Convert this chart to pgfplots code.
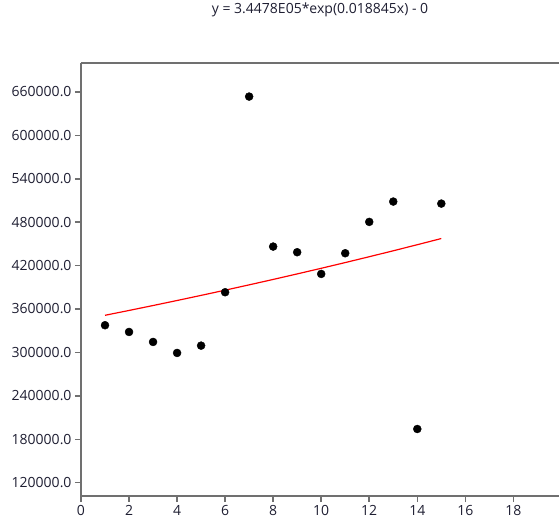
\documentclass[border=0pt]{standalone}
\usepackage{fontspec}
\setmainfont{Open Sans}
\usepackage{pgfplots}
\pgfplotsset{compat=1.18}
\definecolor{axgray}{RGB}{112,112,112}
\definecolor{lbl}{RGB}{30,30,50}
\begin{document}
\begin{tikzpicture}
\useasboundingbox (-81pt,-27pt) rectangle (478pt,496pt);
\begin{axis}[
  scale only axis,
  width=478pt, height=433pt,
  xmin=0, xmax=19.9,
  ymin=101600, ymax=700000,
  axis lines=left,
  axis line style={-, draw=axgray, line width=2pt},
  xtick={0,2,...,18},
  ytick={120000,180000,...,660000},
  tick align=outside,
  major tick length=6pt,
  tick style={draw=axgray, line width=1.5pt},
  scaled y ticks=false,
  /pgf/number format/assume math mode=true,
  y tick label style={/pgf/number format/.cd, fixed, fixed zerofill, precision=1, 1000 sep={}},
  ticklabel style={font=\fontsize{14}{16}\selectfont, text=lbl},
  title={y = 3.4478E05*exp(0.018845x) - 0},
  title style={at={(0.5,1)}, anchor=center, yshift=47pt, font=\fontsize{14}{16}\selectfont, text=lbl},
  clip=false,
]
\addplot[red, line width=1.2pt] coordinates {
(1,351339) (2,358023) (3,364834) (4,371775) (5,378848) (6,386055) (7,393400) (8,400884)
(9,408511) (10,416283) (11,424203) (12,432273) (13,440497) (14,448877) (15,457417)
};
\addplot[only marks, mark=*, mark size=4pt, mark options={fill=black, draw=black}] coordinates {
(1,337600) (2,328300) (3,314500) (4,299300) (5,309400) (6,383200) (7,653600) (8,446300)
(9,438500) (10,408500) (11,437100) (12,480400) (13,508500) (14,194200) (15,505700)
};
\draw[axgray, line width=2pt] (rel axis cs:0,1) -- (rel axis cs:1,1);
\end{axis}
\end{tikzpicture}
\end{document}
